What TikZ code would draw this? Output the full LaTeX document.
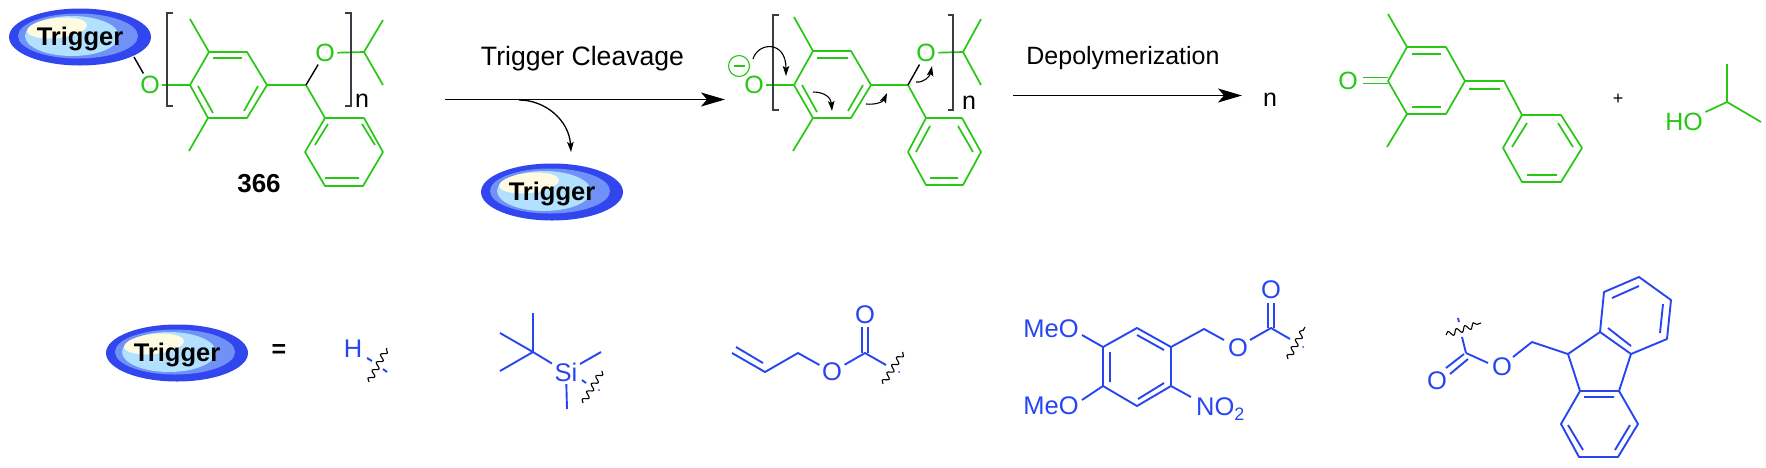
\documentclass[tikz,border=0pt]{standalone}
\usepackage{fontspec}
\setmainfont{Liberation Sans}
\definecolor{ChemGreen}{RGB}{38, 200, 20}
\definecolor{ChemBlue}{RGB}{40, 70, 240}
\definecolor{BlobBlue}{RGB}{50, 70, 240}
\definecolor{BlobMid}{RGB}{112, 145, 245}
\definecolor{BlobLight}{RGB}{178, 224, 255}
\definecolor{BlobCream}{RGB}{255, 251, 226}
\definecolor{BracketGray}{RGB}{60, 60, 70}
\usetikzlibrary{arrows.meta, decorations.pathmorphing}
\tikzset{
    gbond/.style={draw=ChemGreen, line width=1.7pt, line join=round},
    bbond/.style={draw=ChemBlue, line width=1.9pt, line join=round},
    kbond/.style={draw=black, line width=1.4pt},
    gatom/.style={text=ChemGreen, font=\fontsize{25}{30}\selectfont, inner sep=2.5pt},
    batom/.style={text=ChemBlue, font=\fontsize{25.5}{30}\selectfont, inner sep=2.5pt},
    label/.style={text=black, font=\fontsize{25}{30}\selectfont, inner sep=0pt, anchor=base},
    rxnarrow/.style={draw=black, line width=1.8pt, -{Stealth[length=24pt, width=14pt, inset=6pt]}},
    pusharrow/.style={draw=black, line width=1.1pt, -{Stealth[length=10pt, width=6.5pt, inset=2pt]}},
    wavy/.style={draw=black, line width=1.1pt, line join=round, decorate, decoration={snake, segment length=9pt, amplitude=2.8pt}},
    bracket/.style={draw=BracketGray, line width=1.1pt},
    trigger/.pic={
        \fill[BlobBlue] (0,0) ellipse [x radius=71, y radius=28.5];
        \fill[BlobMid] (-2,-1) ellipse [x radius=60, y radius=22.5];
        \fill[BlobLight] (-8,-1) ellipse [x radius=47, y radius=20];
        \fill[BlobCream, rotate around={6:(-23,-9)}] (-23,-9) ellipse [x radius=30, y radius=10];
        \node[font=\bfseries\fontsize{25.5}{30}\selectfont, inner sep=0pt] (-text) at (0,2) {Trigger};
    },
}

\begin{document}
\begin{tikzpicture}[x=1pt, y=-1pt]
    \useasboundingbox (0,0) rectangle (1766,467);

    % Protected polymer
    \pic (blobA) at (80,37) {trigger};
    \node[gatom] (oA) at (150,85) {O};
    \draw[kbond] (134,57) -- (oA);
    \draw[gbond] (oA) -- (190,85);
    \draw[gbond] (190,85) -- (209,52) -- (247,52) -- (267,85) -- (247,118) -- (208,118) -- cycle;
    \draw[gbond] (213,58) -- (242,58) (198,86) -- (213,113) (258,86) -- (244,111);
    \draw[gbond] (209,52) -- (190,19) (208,118) -- (189,151) (267,85) -- (306,85) -- (325,118);
    \node[gatom] (oB) at (325,53) {O};
    \draw[kbond] (306,85) -- (oB);
    \draw[gbond] (oB) -- (364,52) (383,20) -- (364,52) -- (383,85);
    \draw[gbond] (325,118) -- (364,118) -- (383,152) -- (363,186) -- (325,186) -- (305,152) -- cycle;
    \draw[gbond] (315,145) -- (328,124) (375,145) -- (362,124) (325,178) -- (359,178);
    \draw[bracket] (173,13) -- (167,13) -- (167,106) -- (173,106);
    \draw[bracket] (345,13) -- (351,13) -- (351,106) -- (345,106);
    \node[label] (nA) at (362,107) {n};
    \node[label, font=\bfseries\fontsize{26}{30}\selectfont] (numA) at (259,192) {366};

    % Trigger cleavage
    \coordinate (startA) at (445,99.5);
    \coordinate (endA) at (725,99.5);
    \coordinate (branchA) at (519,100);
    \coordinate (tipA) at (571,152);
    \draw[rxnarrow] (startA) -- (endA);
    \draw[pusharrow, line width=1.3pt] (branchA) .. controls (545,100) and (569,120) .. (tipA);
    \node[label, font=\fontsize{26.6}{30}\selectfont] (labelA) at (582.5,65) {Trigger Cleavage};
    \pic (blobB) at (552,192) {trigger};

    % Phenolate
    \node[gatom] (oC) at (754,85) {O};
    \node[circle, draw=ChemGreen, line width=1.1pt, minimum size=21pt, inner sep=0pt] (minusA) at (739,66) {};
    \draw[draw=ChemGreen, line width=1.1pt] (minusA.center) ++(-5.5,0) -- ++(11,0);
    \draw[gbond] (oC) -- (794,85);
    \draw[gbond] (794,85) -- (813,51) -- (851,51) -- (871,85) -- (851,118) -- (813,118) -- cycle;
    \draw[gbond] (817,58) -- (848,58) (802,85) -- (817,112) (863,85) -- (848,111);
    \draw[gbond] (813,51) -- (794,17) (813,118) -- (793,151) (871,85) -- (908,85) -- (926,118);
    \node[gatom] (oD) at (926,53) {O};
    \draw[kbond] (908,85) -- (oD);
    \draw[gbond] (oD) -- (963,52) (981,19) -- (963,52) -- (981,85);
    \draw[gbond] (926,118) -- (962,118) -- (981,152) -- (963,185) -- (926,185) -- (908,152) -- cycle;
    \draw[gbond] (916,152) -- (930,126) (973,152) -- (958,126) (930,178) -- (958,178);
    \draw[bracket] (779,15) -- (773,15) -- (773,110) -- (779,110);
    \draw[bracket] (948,15) -- (953,15) -- (953,110) -- (948,110);
    \node[label] (nB) at (969,109) {n};

    % Electron pushing
    \draw[pusharrow] (753,59) .. controls (758,42) and (786,40) .. (786,76);
    \draw[pusharrow] (813,92) .. controls (825,92) and (831,98) .. (832,111);
    \draw[pusharrow] (866,104) .. controls (875,105) and (883,102) .. (887,93);
    \draw[pusharrow] (916,82) .. controls (924,83) and (930,76) .. (932,66);

    % Depolymerization
    \coordinate (startB) at (1013,95.5);
    \coordinate (endB) at (1242,95.5);
    \draw[rxnarrow] (startB) -- (endB);
    \node[label] (labelB) at (1123,64) {Depolymerization};
    \node[label] (nC) at (1270,106) {n};

    % Quinone methide
    \node[gatom] (oE) at (1348,81) {O};
    \draw[gbond] (1363,77.5) -- (1388,77.5) (1363,83.5) -- (1388,83.5);
    \draw[gbond] (1388,81) -- (1407,47) -- (1446,47) -- (1465,81) -- (1446,114) -- (1407,114) -- cycle;
    \draw[gbond] (1412,54) -- (1441,54) (1412,107) -- (1441,107);
    \draw[gbond] (1407,47) -- (1388,14) (1407,114) -- (1387,147);
    \draw[gbond] (1465,81) -- (1504,81) -- (1522,115) (1469,89) -- (1500,89);
    \draw[gbond] (1522,115) -- (1561,115) -- (1582,148) -- (1561,182) -- (1522,182) -- (1503,148) -- cycle;
    \draw[gbond] (1512,147) -- (1527,123) (1573,147) -- (1558,123) (1527,175) -- (1557,175);
    \node[label, font=\fontsize{18}{20}\selectfont] (plusA) at (1618,104) {+};

    % Isopropanol
    \node[gatom] (hoA) at (1684,122) {HO};
    \draw[gbond] (hoA) -- (1727,102);
    \draw[gbond] (1727,64) -- (1727,102) -- (1761,122);

    % Legend
    \pic (blobC) at (177,353) {trigger};
    \node[font=\bfseries\fontsize{25}{30}\selectfont, inner sep=0pt] (eqA) at (279,351) {=};

    % Hydrogen
    \node[batom] (hA) at (353,349) {H};
    \draw[bbond] (367,358) -- (372,361) (383,369) -- (387,372);
    \draw[wavy] (369,382) -- (387,348);

    % Silyl
    \node[batom] (siA) at (566,372) {Si};
    \draw[bbond] (533,313) -- (533,352) (500,333) -- (533,352) -- (500,371) (533,352) -- (siA);
    \draw[bbond] (siA) -- (601,352) (siA) -- (567,409);
    \draw[bbond] (582,380) -- (586,383);
    \fill[ChemBlue] (599,390) circle (1pt);
    \draw[wavy] (583,403) -- (602,371);

    % Allyl carbonate
    \node[batom] (oF) at (832,372) {O};
    \node[batom] (oG) at (865,315) {O};
    \draw[bbond] (732,353) -- (765,372) -- (798,353) -- (oF) (736,347) -- (763,363);
    \draw[bbond] (oF) -- (865,353) -- (886,365);
    \draw[bbond] (862,327) -- (862,353) (868,327) -- (868,353);
    \fill[ChemBlue] (899,372) circle (1pt);
    \draw[wavy] (883,384) -- (903,352);

    % Nitrobenzyl carbonate
    \node[batom] (meoA) at (1051,329) {MeO};
    \node[batom] (meoB) at (1051,406) {MeO};
    \node[batom, anchor=base west, inner sep=0pt] (noA) at (1196,415) {NO\raisebox{-5pt}{\fontsize{18}{20}\selectfont 2}};
    \node[batom] (oH) at (1238,348) {O};
    \node[batom] (oI) at (1271,290) {O};
    \draw[bbond] (1103,347) -- (1137,328) -- (1171,347) -- (1171,386) -- (1137,406) -- (1103,386) -- cycle;
    \draw[bbond] (1110,352) -- (1110,382) (1137,335) -- (1164,350) (1138,399) -- (1164,383);
    \draw[bbond] (1082,335) -- (1103,347) (1082,400) -- (1103,386) (1171,386) -- (1191,397);
    \draw[bbond] (1171,347) -- (1204,329) -- (1224,340);
    \draw[bbond] (1250,340) -- (1271,328) -- (1290,339);
    \draw[bbond] (1268,303) -- (1268,328) (1274,303) -- (1274,328);
    \fill[ChemBlue] (1303,347) circle (1pt);
    \draw[wavy] (1288,359) -- (1305,327);

    % Fluorenyl carbonate
    \node[batom] (oJ) at (1437,381) {O};
    \node[batom] (oK) at (1502,367) {O};
    \draw[bbond] (1458,318) -- (1459,322) (1466,353) -- (1462,337);
    \draw[wavy] (1446,335) -- (1481,323);
    \draw[bbond] (1446,368) -- (1464,354) (1450,374) -- (1468,359);
    \draw[bbond] (1466,353) -- (1488,363) (1513,357) -- (1532,342) -- (1568,354);
    \draw[bbond] (1568,354) -- (1600,332) -- (1631,354) -- (1619,391) -- (1580,391) -- cycle;
    \draw[bbond] (1600,332) -- (1604,292) -- (1639,277) -- (1671,300) -- (1667,339) -- (1631,354);
    \draw[bbond] (1608,328) -- (1631,346) (1612,298) -- (1639,286) (1663,304) -- (1660,333);
    \draw[bbond] (1619,391) -- (1638,424) -- (1618,457) -- (1579,457) -- (1561,424) -- (1580,391);
    \draw[bbond] (1584,397) -- (1614,397) (1568,425) -- (1583,450) (1630,425) -- (1615,450);
\end{tikzpicture}
\end{document}
